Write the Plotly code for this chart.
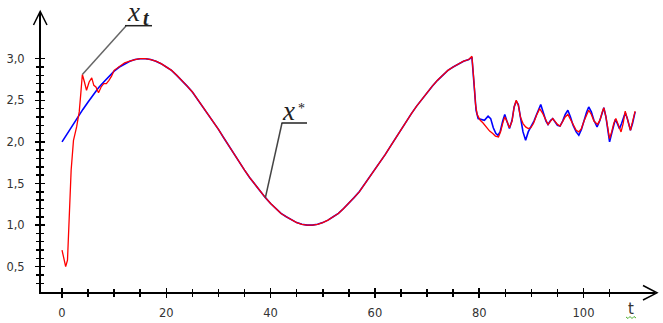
import plotly.graph_objects as go

# ---------------- data ----------------
t_smooth = list(range(0, 79))  # t = 0 .. 78
blue_smooth = [2.00, 2.10, 2.20, 2.29, 2.39, 2.48, 2.57, 2.65, 2.72, 2.79,
               2.85, 2.90, 2.94, 2.97, 2.99, 3.00, 3.00, 2.99, 2.97, 2.94,
               2.90, 2.86, 2.80, 2.74, 2.67, 2.60, 2.51, 2.43, 2.34, 2.24,
               2.15, 2.05, 1.95, 1.85, 1.76, 1.66, 1.57, 1.49, 1.40, 1.33,
               1.26, 1.20, 1.14, 1.10, 1.06, 1.03, 1.01, 1.00, 1.00, 1.01,
               1.03, 1.06, 1.10, 1.14, 1.20, 1.26, 1.33, 1.40, 1.49, 1.57,
               1.66, 1.76, 1.85, 1.95, 2.05, 2.15, 2.24, 2.34, 2.43, 2.51,
               2.60, 2.67, 2.74, 2.80, 2.86, 2.90, 2.94, 2.97, 2.99]

blue_tail_t = [78.6, 79.0, 79.4, 79.8, 80.3, 81.0, 81.7, 82.2, 82.7, 83.2,
               83.6, 84.0, 84.5, 84.9, 85.3, 85.8, 86.3, 86.7, 87.1, 87.5,
               87.9, 88.4, 88.9, 89.4, 89.9, 90.5, 91.0, 91.5, 91.8, 92.3,
               92.8, 93.2, 93.7, 94.1, 94.5, 95.0, 95.5, 96.0, 96.5, 97.0,
               97.5, 98.0, 98.6, 99.1, 99.6, 100.1, 100.6, 101.0, 101.5, 102.0,
               102.6, 103.1, 103.6, 103.9, 104.3, 104.7, 105.0, 105.4, 105.8, 106.1,
               106.5, 106.9, 107.3, 107.7, 108.0, 108.4, 108.7, 109.0, 109.4, 109.9]
blue_tail = [3.02, 2.70, 2.38, 2.28, 2.27, 2.26, 2.31, 2.28, 2.17, 2.10,
             2.08, 2.12, 2.25, 2.33, 2.25, 2.16, 2.26, 2.42, 2.49, 2.45,
             2.30, 2.12, 2.02, 2.12, 2.18, 2.25, 2.33, 2.42, 2.45, 2.35,
             2.25, 2.21, 2.26, 2.28, 2.25, 2.20, 2.19, 2.25, 2.33, 2.38,
             2.30, 2.20, 2.12, 2.08, 2.15, 2.26, 2.36, 2.42, 2.36, 2.26,
             2.18, 2.25, 2.36, 2.41, 2.30, 2.10, 2.00, 2.10, 2.22, 2.27,
             2.22, 2.16, 2.22, 2.30, 2.35, 2.28, 2.20, 2.14, 2.22, 2.36]

red_start_t = [0, 0.25, 0.7, 1.05, 1.2, 1.4, 1.75, 2.05, 2.2, 2.8, 3.3, 3.6,
               3.9, 4.3, 4.7, 5.2, 5.7, 6.1, 6.5, 7.0, 7.5, 8.0, 8.5, 9.0, 9.5]
red_start = [0.70, 0.62, 0.50, 0.58, 0.82, 1.22, 1.66, 1.90, 2.02, 2.18, 2.36, 2.58,
             2.81, 2.72, 2.62, 2.72, 2.77, 2.68, 2.66, 2.59, 2.66, 2.70, 2.70, 2.74, 2.79]

red_mid_t = list(range(10, 79))  # t = 10 .. 78
red_mid = [2.86, 2.91, 2.95, 2.97, 2.99, 3.00, 3.00, 2.99, 2.97, 2.94,
           2.90, 2.86, 2.80, 2.74, 2.67, 2.60, 2.51, 2.43, 2.34, 2.24,
           2.15, 2.05, 1.95, 1.85, 1.76, 1.66, 1.57, 1.49, 1.40, 1.33,
           1.26, 1.20, 1.14, 1.10, 1.06, 1.03, 1.01, 1.00, 1.00, 1.01,
           1.03, 1.06, 1.10, 1.14, 1.20, 1.26, 1.33, 1.40, 1.49, 1.57,
           1.66, 1.76, 1.85, 1.95, 2.05, 2.15, 2.24, 2.34, 2.43, 2.51,
           2.60, 2.67, 2.74, 2.80, 2.86, 2.90, 2.94, 2.97, 2.99]

red_tail_t = [78.6, 79.0, 79.3, 79.6, 80.2, 80.7, 81.1, 81.6, 82.0, 82.6,
              83.1, 83.7, 84.1, 84.5, 84.9, 85.3, 85.8, 86.3, 86.7, 87.1,
              87.5, 87.9, 88.4, 88.9, 89.4, 89.9, 90.4, 91.0, 91.6, 92.2,
              92.8, 93.2, 93.7, 94.1, 94.5, 95.0, 95.5, 96.0, 96.5, 97.0,
              97.5, 98.0, 98.6, 99.1, 99.6, 100.1, 100.6, 101.0, 101.5, 102.0,
              102.7, 103.2, 103.6, 103.9, 104.3, 104.7, 105.0, 105.4, 105.8, 106.2,
              106.6, 107.2, 107.6, 108.0, 108.4, 108.7, 109.0, 109.4, 109.9]
red_tail = [3.03, 2.72, 2.45, 2.33, 2.26, 2.23, 2.20, 2.16, 2.13, 2.10,
            2.07, 2.06, 2.12, 2.22, 2.30, 2.25, 2.17, 2.25, 2.42, 2.50,
            2.44, 2.30, 2.22, 2.18, 2.16, 2.17, 2.22, 2.32, 2.40, 2.34,
            2.25, 2.21, 2.25, 2.28, 2.25, 2.21, 2.19, 2.24, 2.30, 2.33,
            2.27, 2.20, 2.14, 2.12, 2.16, 2.25, 2.33, 2.38, 2.33, 2.25,
            2.21, 2.27, 2.36, 2.41, 2.30, 2.12, 2.04, 2.12, 2.22, 2.28,
            2.22, 2.12, 2.22, 2.37, 2.28, 2.20, 2.14, 2.24, 2.37]

x_major = [0, 20, 40, 60, 80, 100]
x_minor = [5, 10, 15, 25, 30, 35, 45, 50, 55, 65, 70, 75, 85, 90, 95, 105]
y_major = [0.5, 1.0, 1.5, 2.0, 2.5, 3.0]
y_minor = [0.3, 0.4, 0.6, 0.7, 0.8, 0.9, 1.1, 1.2, 1.3, 1.4, 1.6, 1.7, 1.8, 1.9,
           2.1, 2.2, 2.3, 2.4, 2.6, 2.7, 2.8, 2.9]

# ---------------- layout geometry ----------------
W, H = 663, 323
ML, MR, MT, MB = 41, 8, 12, 31
PW, PH = W - ML - MR, H - MT - MB
X_RANGE = [-4.03, 113.71]
Y_RANGE = [0.196, 3.561]


def px(X):
    return (X - ML) / PW


def py(Y):
    return (H - MB - Y) / PH


def tx(X):
    return X_RANGE[0] + (X - ML) * (X_RANGE[1] - X_RANGE[0]) / PW


def vy(Y):
    return Y_RANGE[0] + (H - MB - Y) * (Y_RANGE[1] - Y_RANGE[0]) / PH


blue_t = t_smooth + blue_tail_t
blue_v = blue_smooth + blue_tail
red_t = red_start_t + red_mid_t + red_tail_t
red_v = red_start + red_mid + red_tail

fig = go.Figure()
fig.add_trace(go.Scatter(x=blue_t, y=blue_v, mode="lines",
                         line=dict(color="#0000ff", width=1.6), showlegend=False,
                         hoverinfo="skip"))
fig.add_trace(go.Scatter(x=red_t, y=red_v, mode="lines",
                         line=dict(color="#ff0000", width=1.3), showlegend=False,
                         hoverinfo="skip"))
# helper trace so the overlay axes (inner halves of the ticks) are drawn
fig.add_trace(go.Scatter(x=[None], y=[None], xaxis="x2", yaxis="y2",
                         showlegend=False, hoverinfo="skip"))

tickfont = dict(family="DejaVu Sans", size=11.5, color="#333333")
common = dict(showgrid=False, zeroline=False, fixedrange=True, automargin=False)

fig.update_layout(
    width=W, height=H,
    margin=dict(l=ML, r=MR, t=MT, b=MB, pad=0, autoexpand=False),
    paper_bgcolor="white", plot_bgcolor="white",
    separators=",.",
    xaxis=dict(range=X_RANGE, showline=True, linecolor="black", linewidth=2,
               tickmode="array", tickvals=x_major, ticks="outside", ticklen=4,
               tickwidth=1.5, tickcolor="black", tickfont=tickfont,
               ticklabelstandoff=5,
               minor=dict(tickmode="array", tickvals=x_minor, ticks="outside",
                          ticklen=3, tickwidth=1.5, tickcolor="black", showgrid=False),
               **common),
    xaxis2=dict(range=X_RANGE, overlaying="x", anchor="y", side="bottom",
                showline=False, showticklabels=False,
                tickmode="array", tickvals=x_major, ticks="inside", ticklen=4,
                tickwidth=1.5, tickcolor="black",
                minor=dict(tickmode="array", tickvals=x_minor, ticks="inside",
                           ticklen=3, tickwidth=1.5, tickcolor="black", showgrid=False),
                **common),
    yaxis=dict(range=Y_RANGE, showline=True, linecolor="black", linewidth=2,
               tickmode="array", tickvals=y_major, tickformat=".1f",
               ticks="outside", ticklen=4, tickwidth=1.5, tickcolor="black",
               tickfont=tickfont, ticklabelstandoff=8,
               minor=dict(tickmode="array", tickvals=y_minor, ticks="outside",
                          ticklen=3, tickwidth=1.5, tickcolor="black", showgrid=False),
               **common),
    yaxis2=dict(range=Y_RANGE, overlaying="y", anchor="x", side="left",
                showline=False, showticklabels=False,
                tickmode="array", tickvals=y_major, ticks="inside", ticklen=4,
                tickwidth=1.5, tickcolor="black",
                minor=dict(tickmode="array", tickvals=y_minor, ticks="inside",
                           ticklen=3, tickwidth=1.5, tickcolor="black", showgrid=False),
                **common),
)

shapes = []
# open arrow heads on the axes
shapes.append(dict(type="path", xref="paper", yref="paper",
                   path=f"M {px(33.5)},{py(25)} L {px(40.2)},{py(11.5)} L {px(47)},{py(25)}",
                   line=dict(color="black", width=1.5)))
shapes.append(dict(type="path", xref="paper", yref="paper",
                   path=f"M {px(643)},{py(285.5)} L {px(657)},{py(292.8)} L {px(643)},{py(300)}",
                   line=dict(color="black", width=1.5)))

# leader lines for labels
i_pk = red_start.index(max(red_start))
shapes.append(dict(type="line", xref="x", yref="y", x0=tx(126), y0=vy(26),
                   x1=red_start_t[i_pk], y1=red_start[i_pk],
                   line=dict(color="#666666", width=1.5)))
shapes.append(dict(type="line", xref="paper", yref="paper", x0=px(125), y0=py(25.7),
                   x1=px(152), y1=py(25.7), line=dict(color="#222222", width=1.5)))
shapes.append(dict(type="line", xref="x", yref="y", x0=tx(282), y0=vy(123),
                   x1=t_smooth[39], y1=blue_smooth[39],
                   line=dict(color="#444444", width=1.5)))
shapes.append(dict(type="line", xref="paper", yref="paper", x0=px(281.5), y0=py(123),
                   x1=px(307), y1=py(123), line=dict(color="#222222", width=1.5)))
# little green squiggle under the axis label "t"
sq = [(626, 317), (628, 318.5), (630, 316.5), (632, 318.5), (634, 316.5), (636, 318)]
shapes.append(dict(type="path", xref="paper", yref="paper",
                   path="M " + " L ".join(f"{px(a)},{py(b)}" for a, b in sq),
                   line=dict(color="#4caf30", width=1)))
fig.update_layout(shapes=shapes)

serif = "Liberation Serif"
ann = []
ann.append(dict(text="<i>x</i>", xref="paper", yref="paper", x=px(125), y=py(11.5),
                xanchor="left", yanchor="middle", showarrow=False,
                font=dict(family=serif, size=27, color="#222222")))
ann.append(dict(text="<b><i>t</i></b>", xref="paper", yref="paper", x=px(140.5), y=py(17.5),
                xanchor="left", yanchor="middle", showarrow=False,
                font=dict(family=serif, size=20, color="#222222")))
ann.append(dict(text="<i>x</i>", xref="paper", yref="paper", x=px(280), y=py(111.5),
                xanchor="left", yanchor="middle", showarrow=False,
                font=dict(family=serif, size=27, color="#222222")))
ann.append(dict(text="*", xref="paper", yref="paper", x=px(296), y=py(108),
                xanchor="left", yanchor="middle", showarrow=False,
                font=dict(family=serif, size=14, color="#222222")))
ann.append(dict(text="t", xref="paper", yref="paper", x=px(631), y=py(308.5),
                xanchor="center", yanchor="middle", showarrow=False,
                font=dict(family="DejaVu Sans", size=15, color="#333333")))
fig.update_layout(annotations=ann)

fig.write_html("out.html",
               config={"displayModeBar": False, "staticPlot": True},
               post_script="document.body.style.margin='0px';"
                           "document.body.style.overflow='hidden';")
